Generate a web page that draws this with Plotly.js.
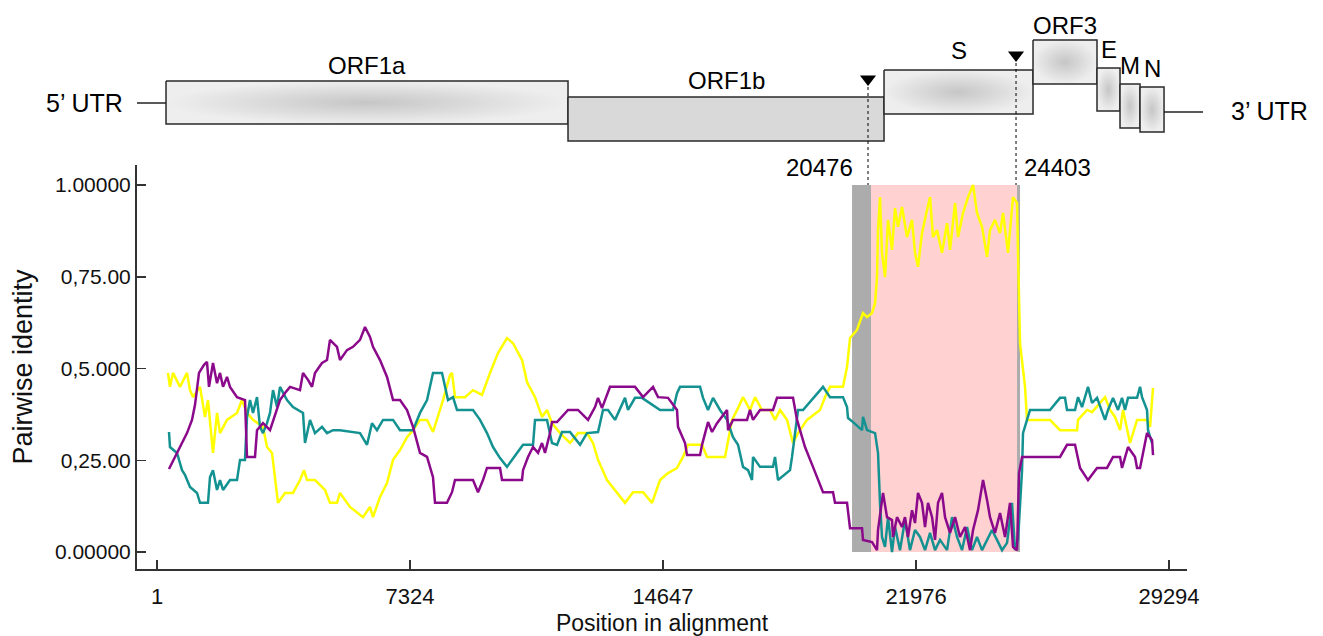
<!DOCTYPE html>
<html><head><meta charset="utf-8">
<script src="https://cdn.plot.ly/plotly-3.0.1.min.js"></script>
<style>html,body{margin:0;padding:0;background:#fff;}#chart{width:1323px;height:636px;}</style>
</head><body><div id="chart"></div>
<script>
// ---------------- data ----------------
const xTickVals = [1, 7324, 14647, 21976, 29294];
const xTickText = ['1', '7324', '14647', '21976', '29294'];
const yTickVals = [0, 0.25, 0.5, 0.75, 1];
const yTickText = ['0.00000', '0,25.00', '0,5.000', '0,75.00', '1.00000'];

const geneNames = ['ORF1a', 'ORF1b', 'S', 'ORF3', 'E', 'M', 'N'];
const geneStart = [262, 11898, 21045, 25358, 27210, 27876, 28455];
const geneEnd   = [11898, 21045, 25358, 27210, 27876, 28455, 29150];
const utrLabels = ['5’ UTR', '3’ UTR'];
const breakpointLabels = ['20476', '24403'];

const purpleX = [348,580,754,869,1014,1101,1217,1362,1448,1506,1622,1738,1825,1912,2027,2114,2317,2548,2606,2838,2896,3069,3272,3475,3561,3706,3851,4140,4227,4372,4488,4574,4777,4922,5008,5211,5298,5500,5674,5877,6022,6166,6253,6456,6659,6833,7035,7238,7412,7614,7817,7990,8048,8395,8540,8627,9148,9293,9437,9553,9930,9988,10567,10596,10740,10885,11030,11145,11232,11377,11435,11580,11898,12188,12477,12680,12767,12882,13114,13838,14070,14359,14504,14793,15053,15082,15285,15343,15720,15777,15951,16067,16211,16501,16530,16674,17080,17166,17253,17456,17832,17948,18411,18527,18758,18989,19279,19569,19626,19974,20061,20408,20437,20698,20842,20871,21016,21132,21276,21305,21421,21566,21653,21740,21855,21942,22029,22145,22232,22319,22435,22521,22608,22724,22811,22956,23101,23245,23390,23535,23622,23766,23911,24027,24113,24258,24403,24548,24692,24779,24895,24953,25040,26140,26342,26574,26661,26719,26950,27211,27500,27674,27877,27934,28108,28311,28369,28456,28658,28803,28832];
const purpleY = [0.226,0.270,0.305,0.324,0.360,0.401,0.488,0.510,0.518,0.450,0.515,0.460,0.488,0.450,0.477,0.450,0.422,0.414,0.259,0.259,0.332,0.351,0.332,0.387,0.414,0.433,0.450,0.441,0.488,0.469,0.450,0.488,0.515,0.523,0.578,0.559,0.523,0.550,0.559,0.578,0.613,0.586,0.559,0.523,0.477,0.414,0.414,0.387,0.341,0.270,0.259,0.204,0.134,0.134,0.163,0.196,0.196,0.163,0.196,0.229,0.229,0.196,0.196,0.223,0.259,0.286,0.270,0.297,0.270,0.324,0.354,0.354,0.387,0.387,0.360,0.395,0.420,0.392,0.450,0.450,0.422,0.450,0.422,0.420,0.387,0.341,0.297,0.264,0.264,0.292,0.354,0.327,0.351,0.387,0.332,0.360,0.360,0.387,0.360,0.387,0.387,0.420,0.420,0.360,0.286,0.232,0.163,0.163,0.134,0.134,0.065,0.065,0.033,0.027,0.005,0.060,0.161,0.095,0.087,0.041,0.095,0.068,0.095,0.041,0.114,0.079,0.161,0.134,0.068,0.134,0.095,0.033,0.134,0.161,0.095,0.052,0.095,0.041,0.068,0.005,0.060,0.114,0.196,0.142,0.095,0.052,0.106,0.041,0.134,0.014,0.005,0.215,0.259,0.259,0.292,0.292,0.259,0.229,0.196,0.229,0.229,0.259,0.259,0.229,0.286,0.259,0.229,0.229,0.324,0.305,0.264];

const yellowX = [319,377,464,667,869,956,1043,1246,1390,1477,1622,1738,1825,2027,2317,2461,2606,2780,3069,3185,3330,3475,3504,3706,3938,4140,4256,4343,4574,4864,5008,5211,5298,5587,5964,6166,6253,6456,6659,6833,7035,7238,7412,7614,7817,7990,8280,8482,8540,8627,8916,9148,9408,9640,9872,10132,10306,10567,10711,10943,11145,11290,11435,11667,11956,12188,12448,12622,12767,13027,13317,13548,13780,14070,14330,14562,14793,15053,15227,15372,15777,15922,16443,16646,16819,16964,17166,17311,17514,17745,17890,18035,18237,18411,18556,18816,19192,19337,19482,19858,19974,20061,20263,20437,20553,20698,20785,20842,20871,20929,20987,21074,21161,21276,21363,21450,21566,21711,21855,21942,22029,22145,22290,22377,22463,22579,22724,22869,22956,23101,23188,23332,23477,23622,23737,23882,24027,24113,24258,24403,24490,24634,24779,24895,24924,24982,25126,25184,25850,26140,26632,26661,26921,27066,27298,27442,27587,27732,27877,27963,28166,28369,28658,28745,28832];
const yellowY = [0.488,0.450,0.488,0.450,0.488,0.441,0.422,0.450,0.368,0.414,0.270,0.379,0.324,0.360,0.379,0.414,0.379,0.360,0.341,0.286,0.270,0.169,0.134,0.161,0.161,0.196,0.223,0.196,0.196,0.169,0.134,0.134,0.161,0.123,0.095,0.123,0.095,0.150,0.188,0.251,0.278,0.313,0.332,0.360,0.360,0.327,0.414,0.482,0.488,0.422,0.422,0.441,0.428,0.488,0.542,0.583,0.569,0.523,0.463,0.422,0.368,0.387,0.351,0.324,0.297,0.324,0.324,0.297,0.251,0.196,0.163,0.134,0.163,0.163,0.134,0.196,0.215,0.229,0.259,0.292,0.292,0.259,0.259,0.360,0.392,0.422,0.387,0.422,0.387,0.387,0.360,0.387,0.360,0.297,0.324,0.360,0.387,0.422,0.450,0.450,0.504,0.583,0.605,0.651,0.640,0.651,0.678,0.749,0.877,0.967,0.815,0.749,0.905,0.823,0.937,0.886,0.940,0.858,0.905,0.815,0.777,0.869,0.932,0.967,0.858,0.877,0.815,0.896,0.823,0.951,0.858,0.924,0.967,1.000,0.924,0.886,0.804,0.877,0.905,0.869,0.924,0.815,0.967,0.951,0.815,0.569,0.450,0.360,0.360,0.332,0.332,0.360,0.387,0.381,0.406,0.422,0.387,0.368,0.332,0.387,0.297,0.360,0.360,0.341,0.447];

const tealX = [348,377,580,725,811,956,1159,1246,1477,1535,1622,1738,1825,1912,2114,2317,2404,2548,2606,2693,2780,2896,2982,3069,3185,3272,3359,3475,3561,3764,3938,4227,4285,4430,4574,4777,4922,5095,5298,5674,5877,6080,6224,6369,6543,6833,7035,7412,7614,7817,7990,8251,8424,8569,8685,9148,9351,9553,9727,9930,10132,10422,10596,10885,10943,11290,11435,11580,11725,11956,12246,12448,12767,12911,13056,13259,13548,13635,13838,14040,14562,14938,15053,15140,15720,15806,15951,16096,16298,16501,16674,16819,16964,17109,17224,17253,17456,17832,17890,17977,18324,18382,18556,18700,18989,19279,19482,19858,19974,20003,20148,20408,20437,20553,20785,20871,20929,20987,21074,21161,21276,21363,21508,21653,21797,21942,22087,22232,22377,22521,22666,22869,23014,23159,23303,23448,23593,23737,23882,24027,24171,24316,24461,24606,24750,24837,24924,25040,25068,25184,25271,25850,26140,26284,26342,26574,26661,26777,26950,27066,27211,27442,27529,27674,27819,27934,28021,28108,28369,28456,28514,28658,28687,28803];
const tealY = [0.327,0.286,0.270,0.223,0.210,0.177,0.161,0.134,0.134,0.204,0.223,0.169,0.196,0.169,0.196,0.196,0.251,0.251,0.368,0.414,0.379,0.422,0.341,0.324,0.351,0.379,0.441,0.395,0.450,0.414,0.395,0.379,0.297,0.360,0.324,0.341,0.324,0.332,0.332,0.327,0.324,0.292,0.351,0.332,0.360,0.360,0.332,0.332,0.379,0.414,0.488,0.488,0.414,0.422,0.387,0.387,0.360,0.324,0.286,0.256,0.232,0.270,0.292,0.292,0.360,0.360,0.297,0.292,0.327,0.327,0.292,0.324,0.327,0.387,0.387,0.360,0.420,0.387,0.420,0.420,0.387,0.387,0.433,0.450,0.450,0.420,0.387,0.420,0.387,0.360,0.313,0.292,0.232,0.223,0.196,0.259,0.232,0.232,0.259,0.196,0.223,0.259,0.387,0.387,0.420,0.450,0.422,0.422,0.395,0.365,0.354,0.332,0.368,0.332,0.324,0.270,0.134,0.041,0.014,0.095,0.000,0.068,0.005,0.087,0.005,0.060,0.041,0.005,0.052,0.005,0.033,0.005,0.095,0.041,0.005,0.068,0.005,0.041,0.005,0.033,0.060,0.033,0.005,0.025,0.134,0.005,0.033,0.223,0.324,0.360,0.387,0.387,0.420,0.420,0.387,0.387,0.422,0.395,0.450,0.406,0.420,0.360,0.387,0.420,0.387,0.420,0.387,0.420,0.420,0.450,0.422,0.387,0.332,0.297];

// ---------------- layout constants ----------------
const W = 1323, H = 636;
const M = {l: 137, r: 136, t: 0, b: 67};
const plotW = W - M.l - M.r;     // 1050
const plotH = H - M.t - M.b;     // 569
const mainTopPx = 165;
const xRange = [-578, 29815];
const yRange = [-0.0463, 1.0545];
const py2paper = py => (plotH - (py - M.t)) / plotH;
const px2paper = px => (px - M.l) / plotW;
const yDomSplit = py2paper(mainTopPx);

// diagram rows (y2 units = pixel rows from top)
const geneTop    = [81, 97, 70, 40, 68, 84, 87];
const geneBottom = [124, 141, 114, 84, 111, 128, 132];
const geneLabelGap = [16, 17, 20, 15, 19, 19, 19];
const geneGradient = [true, false, true, true, true, true, true];
const breakX = [20582, 24866];
const breakArrowY = [79, 55];
const breakTopPx = [87, 63];

const FONT = 'Liberation Sans, Arial, Helvetica, sans-serif';
const COLORS = {yellow: '#ffff00', purple: '#8b0a8b', teal: '#149292'};

const traces = [];
// gene boxes
geneNames.forEach((g, i) => {
  const s = geneStart[i], e = geneEnd[i], t = geneTop[i], b = geneBottom[i];
  const tr = {
    type: 'scatter', mode: 'lines', xaxis: 'x', yaxis: 'y2',
    x: [s, e, e, s, s], y: [t, t, b, b, t],
    fill: 'toself', line: {color: '#2a2a2a', width: 1.5},
    hoverinfo: 'skip', showlegend: false
  };
  if (geneGradient[i]) {
    tr.fillgradient = {type: 'radial', colorscale: [[0, '#c6c6c6'], [0.6, '#dedede'], [1, '#eeeeee']]};
  } else {
    tr.fillcolor = '#d9d9d9';
  }
  traces.push(tr);
});
// 5' UTR line
traces.push({type: 'scatter', mode: 'lines', xaxis: 'x', yaxis: 'y2',
  x: [xRange[0], geneStart[0]], y: [103, 103], line: {color: '#222', width: 1.5},
  hoverinfo: 'skip', showlegend: false});
// breakpoint arrowheads
traces.push({type: 'scatter', mode: 'markers', xaxis: 'x', yaxis: 'y2',
  x: breakX, y: breakArrowY,
  marker: {symbol: 'triangle-down', size: 14, color: '#000'},
  hoverinfo: 'skip', showlegend: false});
// identity series
[[yellowX, yellowY, COLORS.yellow], [tealX, tealY, COLORS.teal], [purpleX, purpleY, COLORS.purple]].forEach(([xs, ys, c]) => {
  traces.push({type: 'scatter', mode: 'lines', xaxis: 'x', yaxis: 'y',
    x: xs, y: ys, line: {color: c, width: 2.5}, hoverinfo: 'skip', showlegend: false});
});

const shapes = [
  {type: 'rect', xref: 'x', yref: 'y', x0: 20119, x1: 20668, y0: 0, y1: 1.0, fillcolor: '#acacac', line: {width: 0}, layer: 'below'},
  {type: 'rect', xref: 'x', yref: 'y', x0: 20668, x1: 24895, y0: 0, y1: 1.0, fillcolor: '#ffd1d1', line: {width: 0}, layer: 'below'},
  {type: 'rect', xref: 'x', yref: 'y', x0: 24895, x1: 24982, y0: 0, y1: 1.0, fillcolor: '#acacac', line: {width: 0}, layer: 'below'},
  {type: 'line', xref: 'x', yref: 'paper', x0: breakX[0], x1: breakX[0], y0: py2paper(breakTopPx[0]), y1: py2paper(185), line: {color: '#000', width: 1, dash: 'dot'}},
  {type: 'line', xref: 'x', yref: 'paper', x0: breakX[1], x1: breakX[1], y0: py2paper(breakTopPx[1]), y1: py2paper(185), line: {color: '#000', width: 1, dash: 'dot'}},
  {type: 'line', xref: 'paper', yref: 'y2', x0: px2paper(1164), x1: px2paper(1203), y0: 112, y1: 112, line: {color: '#222', width: 1.5}}
];

const annotations = geneNames.map((g, i) => ({
  text: g, xref: 'x', yref: 'y2', x: (geneStart[i] + geneEnd[i]) / 2, y: geneTop[i] - geneLabelGap[i],
  xanchor: 'center', yanchor: 'middle', showarrow: false,
  font: {family: FONT, size: 24, color: '#000'}
}));
annotations.push({text: utrLabels[0], xref: 'paper', yref: 'y2', x: px2paper(84), y: 103,
  xanchor: 'center', yanchor: 'middle', showarrow: false, font: {family: FONT, size: 25, color: '#000'}});
annotations.push({text: utrLabels[1], xref: 'paper', yref: 'y2', x: px2paper(1269), y: 111,
  xanchor: 'center', yanchor: 'middle', showarrow: false, font: {family: FONT, size: 25, color: '#000'}});
annotations.push({text: breakpointLabels[0], xref: 'x', yref: 'paper', x: 20205, y: py2paper(167),
  xanchor: 'right', yanchor: 'middle', showarrow: false, font: {family: FONT, size: 24, color: '#000'}});
annotations.push({text: breakpointLabels[1], xref: 'x', yref: 'paper', x: 25039, y: py2paper(167),
  xanchor: 'left', yanchor: 'middle', showarrow: false, font: {family: FONT, size: 24, color: '#000'}});

const axisCommon = {
  showline: true, linecolor: '#333', linewidth: 2, mirror: false,
  showgrid: false, zeroline: false, ticks: 'inside', ticklen: 9, tickwidth: 1.5, tickcolor: '#333',
  tickfont: {family: FONT, size: 21, color: '#111'}, fixedrange: true
};

const layout = {
  width: W, height: H, margin: M,
  paper_bgcolor: '#fff', plot_bgcolor: '#fff', showlegend: false,
  font: {family: FONT, color: '#000'},
  xaxis: Object.assign({}, axisCommon, {
    domain: [0, 1], range: xRange, anchor: 'y',
    tickmode: 'array', tickvals: xTickVals, ticktext: xTickText, ticklabelstandoff: 7,
    tickfont: {family: FONT, size: 22, color: '#111'},
    title: {text: 'Position in alignment', font: {family: FONT, size: 23, color: '#111'}, standoff: 6}
  }),
  yaxis: Object.assign({}, axisCommon, {
    domain: [0, yDomSplit], range: yRange, anchor: 'x',
    tickmode: 'array', tickvals: yTickVals, ticktext: yTickText,
    title: {text: 'Pairwise identity', font: {family: FONT, size: 27, color: '#111'}, standoff: 14}
  }),
  yaxis2: {domain: [yDomSplit, 1], range: [mainTopPx, 0], anchor: 'x', visible: false, fixedrange: true},
  shapes: shapes,
  annotations: annotations
};

Plotly.newPlot('chart', traces, layout, {displayModeBar: false, staticPlot: true});
</script>
</body></html>
